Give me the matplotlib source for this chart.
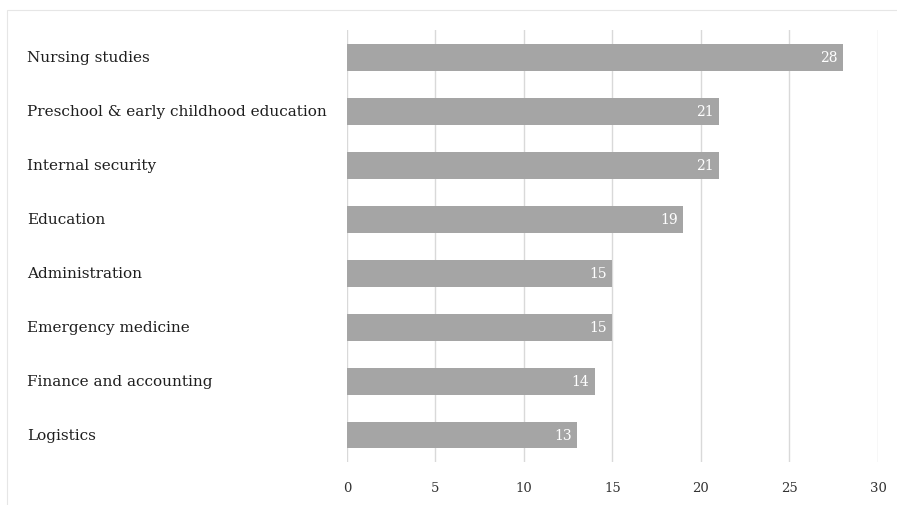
import matplotlib.pyplot as plt
from matplotlib.patches import Rectangle
from matplotlib.transforms import blended_transform_factory

plt.rcParams['font.family'] = ['DejaVu Serif']

categories = ['Nursing studies', 'Preschool & early childhood education', 'Internal security',
              'Education', 'Administration', 'Emergency medicine',
              'Finance and accounting', 'Logistics']
values = [28, 21, 21, 19, 15, 15, 14, 13]
xticks = [0, 5, 10, 15, 20, 25, 30]

fig = plt.figure(figsize=(8.97, 5.06), dpi=100)
ax = fig.add_axes([0.3868, 0.085, 0.5920, 0.8535])

# faint outer frame of the chart area
fig.add_artist(Rectangle((7 / 897, -0.1), 1.2, 1 - 11 / 506 + 0.1, transform=fig.transFigure,
                         fill=False, edgecolor='#e6e6e6', linewidth=0.8))

ypos = list(range(len(categories)))[::-1]
ax.barh(ypos, values, height=0.5, color='#a5a5a5', zorder=2)

for y, v in zip(ypos, values):
    ax.text(v - 0.3, y, str(v), ha='right', va='center', color='white', fontsize=10, zorder=3)

label_tr = blended_transform_factory(fig.transFigure, ax.transData)
for y, c in zip(ypos, categories):
    ax.text(27 / 897, y, c, transform=label_tr, ha='left', va='center', fontsize=11, color='#1e1e1e')

ax.set_xlim(0, 30)
ax.set_ylim(-0.5, len(categories) - 0.5)
ax.set_xticks(xticks)
ax.set_yticks([])
ax.tick_params(axis='x', length=0, pad=14, labelsize=9.5, labelcolor='#333333')
ax.grid(axis='x', color='#d9d9d9', linewidth=1, zorder=0)
for s in ax.spines.values():
    s.set_visible(False)

fig.savefig('out.png', dpi=100)
